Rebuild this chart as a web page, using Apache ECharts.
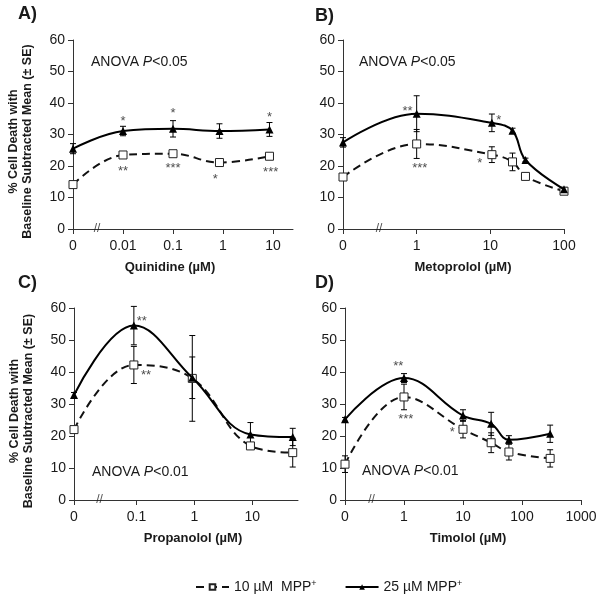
<!DOCTYPE html>
<html>
<head>
<meta charset="utf-8">
<script src="https://cdn.jsdelivr.net/npm/echarts@6/dist/echarts.min.js"></script>
<style>
  html, body { margin: 0; padding: 0; background: #fff; }
  #chart { width: 604px; height: 603px; }
</style>
</head>
<body>
<div id="chart"></div>
<script>
// --- data ---
// A) Quinidine
const quinConc = [0, 0.01, 0.1, 0.85, 8.5];
const quin10 = [14.1, 23.5, 23.9, 21.1, 23.1];
const quin10Se = [0.8, 0.6, 0.9, 0.7, 0.6];
const quin25 = [25.5, 31.1, 31.8, 31.1, 31.6];
const quin25Se = [1.6, 1.5, 2.6, 2.3, 2.2];
const quinStars = [[0.01, 35.5, '*'], [0.1, 38, '*'], [8.5, 36.6, '*'],
  [0.01, 19.4, '**'], [0.1, 20.5, '***'], [0.7, 17, '*'], [9, 19.3, '***']];
const quinTicks = ['0', '0.01', '0.1', '1', '10'];

// B) Metoprolol
const metoConc = [0, 1, 10.5, 20, 30, 100];
const meto10 = [16.5, 27.0, 23.6, 21.3, 16.7, 12.0];
const meto10Se = [0.8, 4.6, 2.5, 2.8, 1.0, 0.8];
const meto25 = [27.5, 36.6, 33.7, 31.2, 21.9, 12.6];
const meto25Se = [1.5, 5.7, 2.8, 0.8, 0.6, 0.6];
const metoStars = [[0.75, 38.7, '**'], [13, 35.7, '*'], [1.1, 20.4, '***'], [7.2, 22.2, '*']];
const metoTicks = ['0', '1', '10', '100'];

// C) Propanolol
const propConc = [0, 0.09, 0.92, 9.3, 50];
const prop10 = [22.0, 42.2, 38.0, 16.9, 14.8];
const prop10Se = [1.0, 5.8, 13.4, 0.8, 4.5];
const prop25 = [32.8, 54.5, 38.2, 20.5, 19.7];
const prop25Se = [0.8, 6.0, 6.5, 3.7, 2.7];
const propStars = [[0.123, 56.9, '**'], [0.146, 40.3, '**']];
const propTicks = ['0', '0.1', '1', '10'];

// D) Timolol
const timoConc = [0, 1, 10, 30, 60, 300];
const timo10 = [11.2, 32.2, 22.1, 17.9, 15.0, 13.0];
const timo10Se = [2.6, 4.0, 2.7, 3.1, 2.5, 2.7];
const timo25 = [25.2, 38.1, 26.4, 23.8, 18.8, 20.7];
const timo25Se = [0.6, 1.4, 1.8, 3.6, 1.3, 2.7];
const timoStars = [[0.8, 43.0, '**'], [1.07, 26.4, '***'], [6.6, 22.3, '*']];
const timoTicks = ['0', '1', '10', '100', '1000'];

const NAME_10 = '10 µM  MPP+';
const NAME_25 = '25 µM MPP+';
const FONT = '"Liberation Sans", Arial, sans-serif';
const TEXT = '#1a1a1a';

// panel layout (pixels) + log offset for the broken log axis
const panels = [
  { label: 'A)', drug: 'Quinidine (µM)', conc: quinConc, d10: quin10, s10: quin10Se, d25: quin25, s25: quin25Se,
    stars: quinStars, ticks: quinTicks, off: 3, max: 4.4, brk: 0.48,
    grid: { left: 73, top: 40, width: 220, height: 189 }, namePad: [0, 26, 0, 0],
    anova: '0.05', anovaPos: [91, 55], labelPos: [18, 5], yName: true },
  { label: 'B)', drug: 'Metoprolol (µM)', conc: metoConc, d10: meto10, s10: meto10Se, d25: meto25, s25: meto25Se,
    stars: metoStars, ticks: metoTicks, off: 1, max: 3, brk: 0.49,
    grid: { left: 343, top: 40, width: 221, height: 189 }, namePad: [0, 0, 0, 19],
    anova: '0.05', anovaPos: [359, 55], labelPos: [315, 7], yName: false },
  { label: 'C)', drug: 'Propanolol (µM)', conc: propConc, d10: prop10, s10: prop10Se, d25: prop25, s25: prop25Se,
    stars: propStars, ticks: propTicks, off: 2.08, max: 3.87, brk: 0.44,
    grid: { left: 74, top: 308, width: 224, height: 192 }, namePad: [0, 0, 0, 14],
    anova: '0.01', anovaPos: [92, 465], labelPos: [18, 274], yName: true },
  { label: 'D)', drug: 'Timolol (µM)', conc: timoConc, d10: timo10, s10: timo10Se, d25: timo25, s25: timo25Se,
    stars: timoStars, ticks: timoTicks, off: 1, max: 4, brk: 0.45,
    grid: { left: 345, top: 308, width: 236, height: 192 }, namePad: [0, 0, 0, 10],
    anova: '0.01', anovaPos: [362, 464], labelPos: [315, 274], yName: false }
];

const toPos = (x, off) => (x === 0 ? 0 : Math.log10(x) + off);

const errorBarSeries = (name, idx, data) => ({
  name: name,
  type: 'custom',
  xAxisIndex: idx,
  yAxisIndex: idx,
  z: 1,
  silent: true,
  data: data,
  renderItem: (params, api) => {
    const x = api.value(0), y = api.value(1), e = api.value(2);
    const top = api.coord([x, y + e]);
    const bot = api.coord([x, y - e]);
    const w = 3;
    const style = { stroke: '#000', lineWidth: 1 };
    return {
      type: 'group',
      children: [
        { type: 'line', shape: { x1: top[0], y1: top[1], x2: bot[0], y2: bot[1] }, style },
        { type: 'line', shape: { x1: top[0] - w, y1: top[1], x2: top[0] + w, y2: top[1] }, style },
        { type: 'line', shape: { x1: bot[0] - w, y1: bot[1], x2: bot[0] + w, y2: bot[1] }, style }
      ]
    };
  }
});

const grids = [], xAxes = [], yAxes = [], series = [], graphics = [];

panels.forEach((p, i) => {
  grids.push(p.grid);

  const tickPos = p.ticks.map(t => toPos(Number(t), p.off));
  xAxes.push({
    type: 'value',
    gridIndex: i,
    min: 0,
    max: p.max,
    name: p.drug,
    nameLocation: 'middle',
    nameGap: 32,
    nameTextStyle: { fontFamily: FONT, fontWeight: 'bold', fontSize: 13, color: TEXT, padding: p.namePad },
    axisLine: { lineStyle: { color: '#333', width: 1 } },
    axisTick: { show: true, length: 5, lineStyle: { color: '#333' }, customValues: tickPos },
    axisLabel: {
      fontFamily: FONT, fontSize: 14, color: TEXT, margin: 10,
      customValues: tickPos,
      formatter: v => {
        const k = tickPos.findIndex(t => Math.abs(t - v) < 1e-6);
        return k >= 0 ? p.ticks[k] : '';
      }
    },
    splitLine: { show: false }
  });

  yAxes.push({
    type: 'value',
    gridIndex: i,
    min: 0,
    max: 60,
    interval: 10,
    name: p.yName ? '% Cell Death with\nBaseline Subtracted Mean (± SE)' : '',
    nameLocation: 'middle',
    nameGap: 38,
    nameTextStyle: { fontFamily: FONT, fontWeight: 'bold', fontSize: 12.5, lineHeight: 14, color: TEXT, padding: [0, 14, 0, 0] },
    axisLine: { show: true, lineStyle: { color: '#333', width: 1 } },
    axisTick: { show: true, length: 5, lineStyle: { color: '#333' } },
    axisLabel: { fontFamily: FONT, fontSize: 14, color: TEXT, margin: 8 },
    splitLine: { show: false }
  });

  const pts10 = p.conc.map((c, k) => [toPos(c, p.off), p.d10[k]]);
  const pts25 = p.conc.map((c, k) => [toPos(c, p.off), p.d25[k]]);

  series.push(errorBarSeries('err10_' + i, i, p.conc.map((c, k) => [toPos(c, p.off), p.d10[k], p.s10[k]])));
  series.push(errorBarSeries('err25_' + i, i, p.conc.map((c, k) => [toPos(c, p.off), p.d25[k], p.s25[k]])));

  series.push({
    name: NAME_10,
    type: 'line',
    xAxisIndex: i,
    yAxisIndex: i,
    z: 2,
    data: pts10,
    smooth: 0.4,
    symbol: 'rect',
    symbolSize: 8,
    lineStyle: { color: '#111', width: 2, type: [8, 5] },
    itemStyle: { color: '#fff', borderColor: '#222', borderWidth: 1 }
  });
  series.push({
    name: NAME_25,
    type: 'line',
    xAxisIndex: i,
    yAxisIndex: i,
    z: 3,
    data: pts25,
    smooth: 0.4,
    symbol: 'triangle',
    symbolSize: 8,
    lineStyle: { color: '#000', width: 2 },
    itemStyle: { color: '#000' }
  });

  // significance stars
  series.push({
    name: 'stars_' + i,
    type: 'scatter',
    xAxisIndex: i,
    yAxisIndex: i,
    z: 4,
    silent: true,
    symbolSize: 1,
    itemStyle: { color: 'rgba(0,0,0,0)' },
    data: p.stars.map(s => ({ value: [toPos(s[0], p.off), s[1]], t: s[2] })),
    label: {
      show: true, position: 'inside', offset: [0, 4],
      fontFamily: FONT, fontSize: 13, color: TEXT,
      formatter: q => q.data.t
    }
  });

  // axis break mark
  series.push({
    name: 'break_' + i,
    type: 'scatter',
    xAxisIndex: i,
    yAxisIndex: i,
    z: 4,
    silent: true,
    symbolSize: 1,
    itemStyle: { color: 'rgba(0,0,0,0)' },
    data: [[p.brk, 0]],
    label: { show: true, position: 'inside', fontFamily: FONT, fontSize: 12, color: TEXT, formatter: '//' }
  });

  graphics.push({
    type: 'text', left: p.labelPos[0], top: p.labelPos[1],
    style: { text: p.label, fontFamily: FONT, fontSize: 18, fontWeight: 'bold', fill: TEXT }
  });
  graphics.push({
    type: 'text', left: p.anovaPos[0], top: p.anovaPos[1],
    style: {
      text: 'ANOVA {i|P}<' + p.anova, fontFamily: FONT, fontSize: 14, fill: TEXT,
      rich: { i: { fontStyle: 'italic', fontFamily: FONT, fontSize: 14, fill: TEXT } }
    }
  });
});

const chart = echarts.init(document.getElementById('chart'));
chart.setOption({
  backgroundColor: '#fff',
  animation: false,
  grid: grids,
  xAxis: xAxes,
  yAxis: yAxes,
  legend: {
    data: [NAME_10, NAME_25],
    left: 190,
    top: 574,
    itemWidth: 33,
    itemHeight: 7,
    itemGap: 28,
    formatter: name => name.replace('+', '{sup|+}'),
    textStyle: {
      fontFamily: FONT, fontSize: 14, color: TEXT,
      rich: { sup: { fontFamily: FONT, fontSize: 9, color: TEXT, padding: [0, 0, 7, 0] } }
    }
  },
  graphic: graphics,
  series: series
});
</script>
</body>
</html>
